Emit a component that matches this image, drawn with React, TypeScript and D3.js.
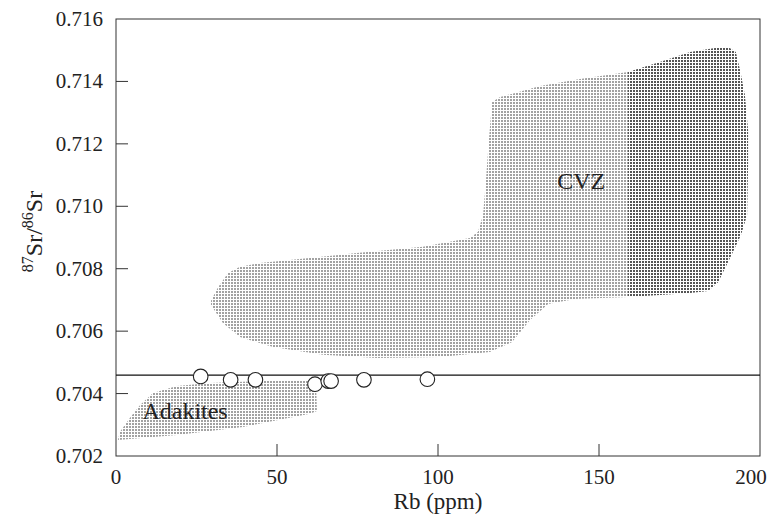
import React, { useEffect, useRef } from "react";
import * as d3 from "d3";

// CVZ field, lighter part (Rb < ~159), [Rb, 87Sr/86Sr]
const cvzLight: [number, number][] = [
  [29.5, 0.70697], [31.7, 0.70741], [34.8, 0.70786], [38.5, 0.70806],
  [44.7, 0.70818], [54.0, 0.70828], [74.8, 0.7085], [95.3, 0.7087],
  [109.9, 0.70898], [112.4, 0.70918], [114.0, 0.70972], [114.9, 0.71084],
  [115.8, 0.71212], [116.8, 0.71334], [119.3, 0.7135], [131.7, 0.71385],
  [144.1, 0.71408], [159.0, 0.7143], [159.0, 0.70709], [142.5, 0.70703],
  [134.2, 0.70687], [128.6, 0.70636], [123.0, 0.70565], [116.1, 0.70533],
  [100.6, 0.70517], [81.1, 0.70514], [64.3, 0.70524], [48.8, 0.70549],
  [38.5, 0.70581], [33.2, 0.70626], [29.5, 0.70684],
];

// CVZ field, darker part (Rb > ~159)
const cvzDark: [number, number][] = [
  [159.0, 0.7143], [168.9, 0.71462], [178.3, 0.71494], [186.0, 0.71507],
  [190.1, 0.7151], [192.5, 0.71494], [193.8, 0.71437], [195.3, 0.71357],
  [196.3, 0.71244], [196.3, 0.71132], [196.0, 0.70972], [194.1, 0.70908],
  [190.7, 0.70834], [187.0, 0.70757], [183.9, 0.70729], [178.3, 0.70722],
  [168.9, 0.70716], [159.0, 0.70709],
];

// Adakite field
const adakite: [number, number][] = [
  [0.6, 0.70251], [1.2, 0.70277], [4.3, 0.70322], [7.5, 0.70363],
  [11.5, 0.70402], [18.9, 0.70424], [29.2, 0.70434], [43.8, 0.7044],
  [62.1, 0.7044], [62.4, 0.70344], [60.2, 0.70335], [39.4, 0.70293],
  [18.9, 0.70267],
];

// samples
const sampleRb = [26.3, 35.6, 43.3, 61.8, 65.9, 66.8, 77.0, 96.7];
const sampleSr = [0.70455, 0.70444, 0.70444, 0.7043, 0.7044, 0.7044, 0.70444, 0.70446];

const refLine = 0.70459;

const xTicks = [0, 50, 100, 150, 200];
const yTicks = [0.702, 0.704, 0.706, 0.708, 0.71, 0.712, 0.714, 0.716];

const FONT = "'Liberation Serif', 'Times New Roman', Tinos, 'DejaVu Serif', 'Noto Serif', serif";

export default function App() {
  const ref = useRef<SVGSVGElement>(null);

  useEffect(() => {
    const svg = d3.select(ref.current);
    svg.selectAll("*").remove();

    const margin = { top: 19, right: 8, bottom: 64, left: 116 };
    const W = 768, H = 520;
    const w = W - margin.left - margin.right;
    const h = H - margin.top - margin.bottom;

    const x = d3.scaleLinear().domain([0, 200]).range([margin.left, margin.left + w]);
    const y = d3.scaleLinear().domain([0.702, 0.716]).range([margin.top + h, margin.top]);

    const defs = svg.append("defs");
    const pat = (id: string, color: string) => {
      const p = defs.append("pattern")
        .attr("id", id)
        .attr("patternUnits", "userSpaceOnUse")
        .attr("width", 3)
        .attr("height", 3);
      p.append("rect").attr("width", 3).attr("height", 3).attr("fill", "#fff");
      p.append("rect").attr("x", 0).attr("y", 0).attr("width", 2).attr("height", 2).attr("fill", color);
    };
    pat("lightDots", "#a2a2a2");
    pat("darkDots", "#555");

    const line = d3.line<[number, number]>()
      .x((d) => x(d[0]))
      .y((d) => y(d[1]))
      .curve(d3.curveLinearClosed);

    svg.append("path").attr("d", line(cvzLight)).attr("fill", "url(#lightDots)");
    svg.append("path").attr("d", line(cvzDark)).attr("fill", "url(#darkDots)");
    svg.append("path").attr("d", line(adakite)).attr("fill", "url(#lightDots)");

    // frame
    svg.append("rect")
      .attr("x", margin.left).attr("y", margin.top)
      .attr("width", w).attr("height", h)
      .attr("fill", "none").attr("stroke", "#333").attr("stroke-width", 1);

    // inward ticks
    svg.selectAll(".xt").data(xTicks.slice(1, -1)).join("line")
      .attr("x1", (d) => x(d)).attr("x2", (d) => x(d))
      .attr("y1", margin.top + h).attr("y2", margin.top + h - 12)
      .attr("stroke", "#333");
    svg.selectAll(".yt").data(yTicks.slice(1, -1)).join("line")
      .attr("x1", margin.left).attr("x2", margin.left + 12)
      .attr("y1", (d) => y(d)).attr("y2", (d) => y(d))
      .attr("stroke", "#333");

    svg.selectAll(".xl").data(xTicks).join("text")
      .attr("x", (d) => Math.min(x(d), W - 17)).attr("y", margin.top + h + 28)
      .attr("text-anchor", "middle")
      .attr("font-family", FONT).attr("font-size", 21).attr("fill", "#222")
      .text((d) => d3.format("d")(d));
    svg.selectAll(".yl").data(yTicks).join("text")
      .attr("x", margin.left - 13).attr("y", (d) => y(d) + 7)
      .attr("text-anchor", "end")
      .attr("font-family", FONT).attr("font-size", 21).attr("fill", "#222")
      .text((d) => d3.format(".3f")(d));

    // reference line
    svg.append("line")
      .attr("x1", margin.left).attr("x2", margin.left + w)
      .attr("y1", y(refLine)).attr("y2", y(refLine))
      .attr("stroke", "#111").attr("stroke-width", 1.3);

    svg.selectAll(".pt").data(sampleRb).join("circle")
      .attr("cx", (d) => x(d))
      .attr("cy", (d, i) => y(sampleSr[i]))
      .attr("r", 7.3)
      .attr("fill", "#fff").attr("stroke", "#222").attr("stroke-width", 1.1);

    svg.append("text")
      .attr("x", x(144.5)).attr("y", y(0.71081) + 8)
      .attr("text-anchor", "middle")
      .attr("font-family", FONT).attr("font-size", 24).attr("fill", "#222")
      .text("CVZ");
    svg.append("text")
      .attr("x", x(8.2)).attr("y", y(0.70318))
      .attr("font-family", FONT).attr("font-size", 24).attr("fill", "#222")
      .text("Adakites");

    svg.append("text")
      .attr("x", x(100)).attr("y", H - 11)
      .attr("text-anchor", "middle")
      .attr("font-family", FONT).attr("font-size", 23).attr("fill", "#222")
      .text("Rb (ppm)");

    const yl = svg.append("text")
      .attr("transform", `translate(42, ${margin.top + h / 2 - 6}) rotate(-90)`)
      .attr("text-anchor", "middle")
      .attr("font-family", FONT).attr("font-size", 24).attr("fill", "#222");
    yl.append("tspan").attr("font-size", 16).attr("dy", -9).text("87");
    yl.append("tspan").attr("dy", 9).text("Sr/");
    yl.append("tspan").attr("font-size", 16).attr("dy", -9).text("86");
    yl.append("tspan").attr("dy", 9).text("Sr");
  }, []);

  return (
    <svg ref={ref} width={768} height={520}
      style={{ position: "absolute", left: 0, top: 0, background: "#fff" }} />
  );
}
